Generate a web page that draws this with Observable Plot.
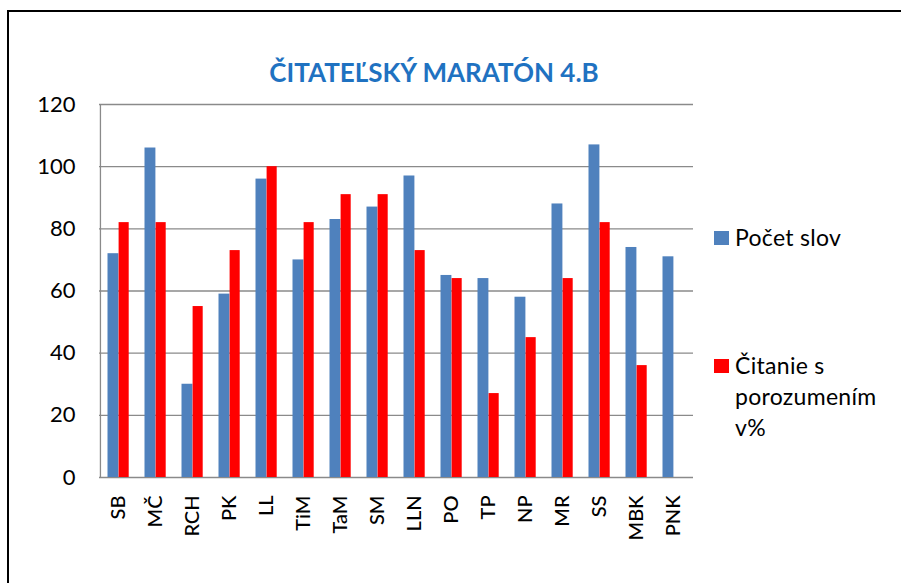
<!DOCTYPE html>
<html>
<head>
<meta charset="utf-8">
<script src="https://cdn.jsdelivr.net/npm/d3@7"></script>
<script src="https://cdn.jsdelivr.net/npm/@observablehq/plot@0.6"></script>
<style>
  html, body { margin: 0; padding: 0; background: #fff; }
  #page { position: relative; width: 901px; height: 583px; overflow: hidden; background: #fff; font-family: Lato, "Open Sans", sans-serif; }
  #frame { position: absolute; left: 7px; top: 10px; width: 920px; height: 600px; border-left: 2.5px solid #000; border-top: 2.5px solid #000; box-sizing: border-box; }
  #chart { position: absolute; left: 0; top: 0; }
  #title { position: absolute; left: 0; width: 868px; top: 56px; text-align: center; font-weight: bold; font-size: 26px; color: #1f72c1; white-space: nowrap; }
  .leg { position: absolute; font-size: 23px; letter-spacing: 0.3px; color: #000; line-height: 31px; }
  .sw { position: absolute; width: 15px; height: 14px; }
</style>
</head>
<body>
<div id="page">
  <div id="frame"></div>
  <div id="chart"></div>
  <div id="title"></div>
  <div id="legend"></div>
</div>
<script>
const categories = ["SB","MČ","RCH","PK","LL","TiM","TaM","SM","LLN","PO","TP","NP","MR","SS","MBK","PNK"];
const pocetSlov = [72,106,30,59,96,70,83,87,97,65,64,58,88,107,74,71];
const citanie = [82,82,55,73,100,82,91,91,73,64,27,45,64,82,36,null];
const yTicks = [0,20,40,60,80,100,120];
const seriesNames = ["Počet slov", "Čitanie s porozumením v%"];
const seriesColors = ["#4f81bd", "#ff0000"];
const titleText = "ČITATEĽSKÝ MARATÓN 4.B";

const blueData = categories.map((c, i) => ({cat: c, value: pocetSlov[i]}));
const redData = categories.map((c, i) => ({cat: c, value: citanie[i]})).filter(d => d.value != null);

const chart = Plot.plot({
  width: 901,
  height: 583,
  marginLeft: 99,
  marginRight: 208,
  marginTop: 104,
  marginBottom: 106,
  x: {domain: categories, padding: 0},
  y: {domain: [0, 120]},
  style: {fontFamily: "Lato, 'Open Sans', sans-serif", background: "transparent", color: "#000"},
  marks: [
    Plot.ruleY(yTicks, {stroke: "#8a8a8a", strokeWidth: 1.3}),
    Plot.ruleX([categories[0]], {x: d => d, dx: -594 / 16 / 2, stroke: "#8a8a8a", strokeWidth: 1.3}),
    Plot.barY(blueData, {x: "cat", y: "value", fill: seriesColors[0], insetLeft: 7.5, insetRight: 18.6}),
    Plot.barY(redData, {x: "cat", y: "value", fill: seriesColors[1], insetLeft: 18.6, insetRight: 8.3}),
    Plot.axisY({ticks: yTicks, tickSize: 0, tickPadding: 24, fontSize: 22, label: null}),
    Plot.axisX({tickRotate: -90, tickSize: 0, tickPadding: 18, fontSize: 20, fontWeight: 500, label: null})
  ]
});
document.getElementById("chart").appendChild(chart);
document.getElementById("title").textContent = titleText;

const legend = document.getElementById("legend");
const legItems = [
  {name: seriesNames[0], color: seriesColors[0], top: 231, lines: ["Počet slov"]},
  {name: seriesNames[1], color: seriesColors[1], top: 359, lines: ["Čitanie s", "porozumením", "v%"]}
];
legItems.forEach(it => {
  const sw = document.createElement("div");
  sw.className = "sw";
  sw.style.left = "714px";
  sw.style.top = it.top + "px";
  sw.style.background = it.color;
  legend.appendChild(sw);
  const t = document.createElement("div");
  t.className = "leg";
  t.style.left = "735px";
  t.style.top = (it.top - 9) + "px";
  t.innerHTML = it.lines.join("<br>");
  legend.appendChild(t);
});
</script>
</body>
</html>
